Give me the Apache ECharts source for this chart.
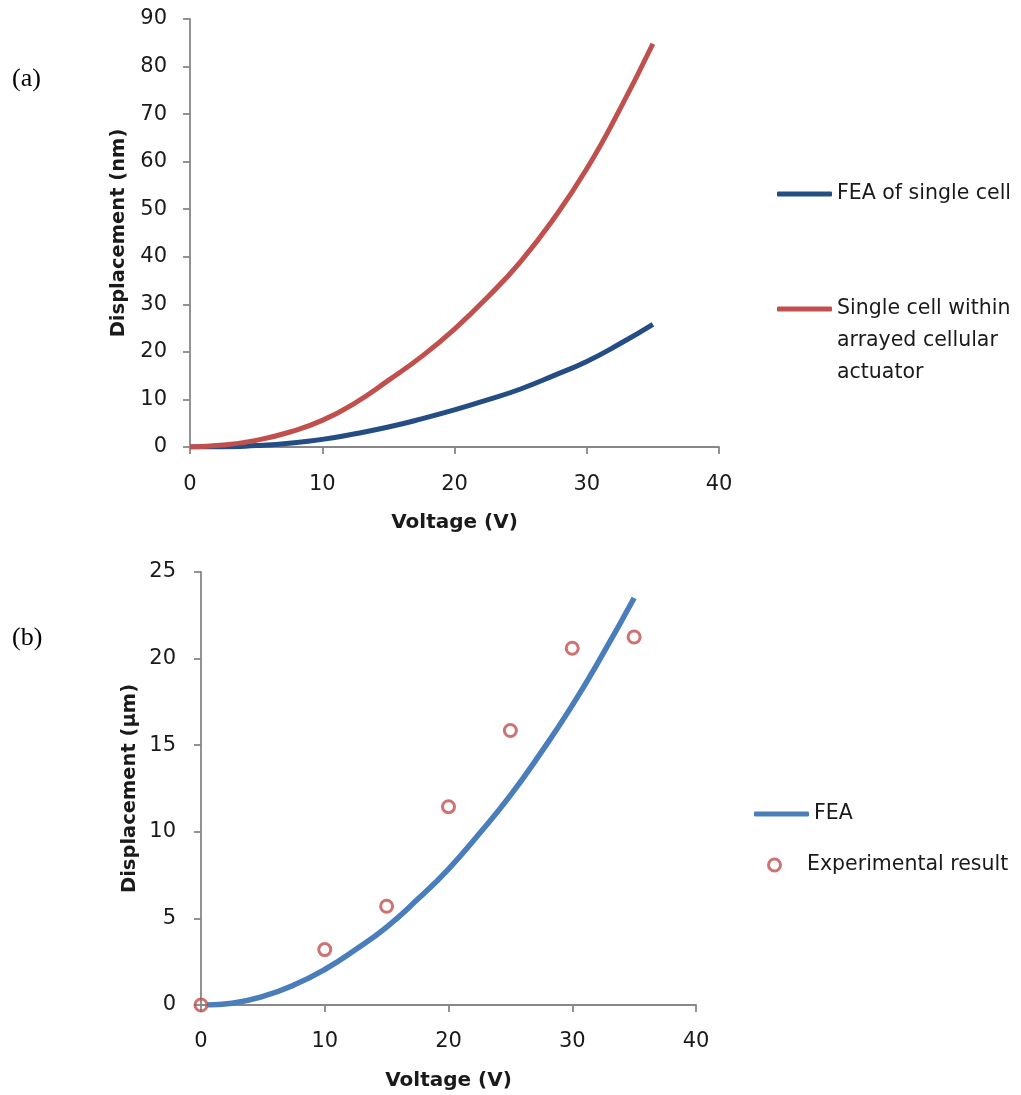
<!DOCTYPE html>
<html>
<head>
<meta charset="utf-8">
<script src="https://cdn.jsdelivr.net/npm/echarts@6/dist/echarts.min.js"></script>
<style>html,body{margin:0;padding:0;background:#fff}#c{width:1021px;height:1095px}</style>
</head>
<body>
<div id="c"></div>
<script>
// Panel (a)
var voltA = [0, 2.5, 5, 7.5, 10, 12.5, 15, 17.5, 20, 22.5, 25, 27.5, 30, 32.5, 35];
var feaSingle = [0, 0, 0.3, 0.8, 1.6, 2.8, 4.2, 5.9, 7.8, 9.9, 12.2, 15.0, 18.0, 21.7, 25.8];
var arrayedCell = [0, 0.4, 1.4, 3.1, 5.6, 9.3, 14.0, 19.0, 24.8, 31.5, 39.0, 48.0, 58.5, 71.0, 84.8];
// Panel (b)
var voltB = [0.5, 2.5, 5, 7.5, 10, 12.5, 15, 17.5, 20, 22.5, 25, 27.5, 30, 32.5, 35];
var feaB = [0, 0.1, 0.5, 1.15, 2.05, 3.2, 4.5, 6.1, 7.85, 9.9, 12.1, 14.6, 17.3, 20.3, 23.5];
var expVolt = [0, 10, 15, 20, 25, 30, 35];
var expDisp = [0, 3.2, 5.7, 11.45, 15.85, 20.6, 21.25];

var FONT = 'DejaVu Sans';
var axisGray = '#878787';
var textCol = '#1a1a1a';

function pairs(xs, ys) { return xs.map(function (x, i) { return [x, ys[i]]; }); }

function xAxisCfg(gridIndex, margin, nameGap) {
  return {
    type: 'value', gridIndex: gridIndex, min: 0, max: 40, interval: 10,
    name: 'Voltage (V)', nameLocation: 'middle', nameGap: nameGap,
    nameTextStyle: { fontFamily: FONT, fontWeight: 'bold', fontSize: 20, color: textCol },
    axisLine: { show: true, onZero: false, lineStyle: { color: axisGray, width: 1.8 } },
    axisTick: { show: true, inside: false, length: 7, lineStyle: { color: axisGray, width: 1.8 } },
    axisLabel: { fontFamily: FONT, fontSize: 21, color: textCol, margin: margin },
    splitLine: { show: false }
  };
}
function yAxisCfg(gridIndex, max, interval, name, margin, nameGap) {
  return {
    type: 'value', gridIndex: gridIndex, min: 0, max: max, interval: interval,
    name: name, nameLocation: 'middle', nameGap: nameGap,
    nameTextStyle: { fontFamily: FONT, fontWeight: 'bold', fontSize: 19.5, color: textCol },
    axisLine: { show: true, onZero: false, lineStyle: { color: axisGray, width: 1.8 } },
    axisTick: { show: true, inside: false, length: 7, lineStyle: { color: axisGray, width: 1.8 } },
    axisLabel: { fontFamily: FONT, fontSize: 21, color: textCol, margin: margin },
    splitLine: { show: false }
  };
}
var legText = { fontFamily: FONT, fontSize: 20.5, color: textCol, lineHeight: 24 };

var chart = echarts.init(document.getElementById('c'), null, { renderer: 'canvas' });
chart.setOption({
  animation: false,
  backgroundColor: '#ffffff',
  grid: [
    { left: 190, top: 19, width: 529, height: 428 },
    { left: 201, top: 572, width: 495, height: 433 }
  ],
  xAxis: [xAxisCfg(0, 27, 66), xAxisCfg(1, 26, 66)],
  yAxis: [
    yAxisCfg(0, 90, 10, 'Displacement (nm)', 23, 61),
    yAxisCfg(1, 25, 5, 'Displacement (μm)', 25, 61)
  ],
  legend: [
    {
      left: 772, top: 192 - 15, itemWidth: 55, itemHeight: 5,
      textStyle: legText,
      data: [{ name: 'FEA of single cell', icon: 'roundRect' }]
    },
    {
      left: 772, top: 304 - 80, itemWidth: 55, itemHeight: 5,
      textStyle: { fontFamily: FONT, fontSize: 20.5, color: textCol, lineHeight: 32 },
      data: [{ name: 'Single cell within arrayed cellular actuator', icon: 'roundRect' }],
      formatter: function () { return '\n\nSingle cell within\narrayed cellular\nactuator'; }
    },
    {
      left: 749, top: 811 - 14, itemWidth: 55, itemHeight: 5,
      textStyle: legText,
      data: [{ name: 'FEA', icon: 'roundRect' }]
    },
    {
      left: 762, top: 862 - 14, itemWidth: 55, itemHeight: 12,
      textStyle: legText,
      data: [{ name: 'Experimental result', icon: 'circle',
               itemStyle: { color: '#ffffff', borderColor: '#C0504D', borderWidth: 3 } }]
    }
  ],
  series: [
    {
      name: 'FEA of single cell', type: 'line', xAxisIndex: 0, yAxisIndex: 0,
      data: pairs(voltA, feaSingle), smooth: true, symbol: 'none',
      lineStyle: { color: '#234D83', width: 5 }, itemStyle: { color: '#234D83' }
    },
    {
      name: 'Single cell within arrayed cellular actuator', type: 'line', xAxisIndex: 0, yAxisIndex: 0,
      data: pairs(voltA, arrayedCell), smooth: true, symbol: 'none',
      lineStyle: { color: '#C0504D', width: 5 }, itemStyle: { color: '#C0504D' }
    },
    {
      name: 'FEA', type: 'line', xAxisIndex: 1, yAxisIndex: 1,
      data: pairs(voltB, feaB), smooth: true, symbol: 'none',
      lineStyle: { color: '#4A7EBB', width: 5.5 }, itemStyle: { color: '#4A7EBB' }
    },
    {
      name: 'Experimental result', type: 'scatter', xAxisIndex: 1, yAxisIndex: 1,
      data: pairs(expVolt, expDisp), symbol: 'circle', symbolSize: 12, z: 5,
      itemStyle: { color: 'rgba(255,255,255,0)', borderColor: '#C0504D', borderWidth: 3 }
    }
  ],
  graphic: [
    { type: 'text', x: 12, y: 79, style: { text: '(a)', font: '26px "Liberation Serif"', fill: '#000', verticalAlign: 'middle' } },
    { type: 'text', x: 12, y: 638, style: { text: '(b)', font: '26px "Liberation Serif"', fill: '#000', verticalAlign: 'middle' } }
  ]
});
</script>
</body>
</html>
